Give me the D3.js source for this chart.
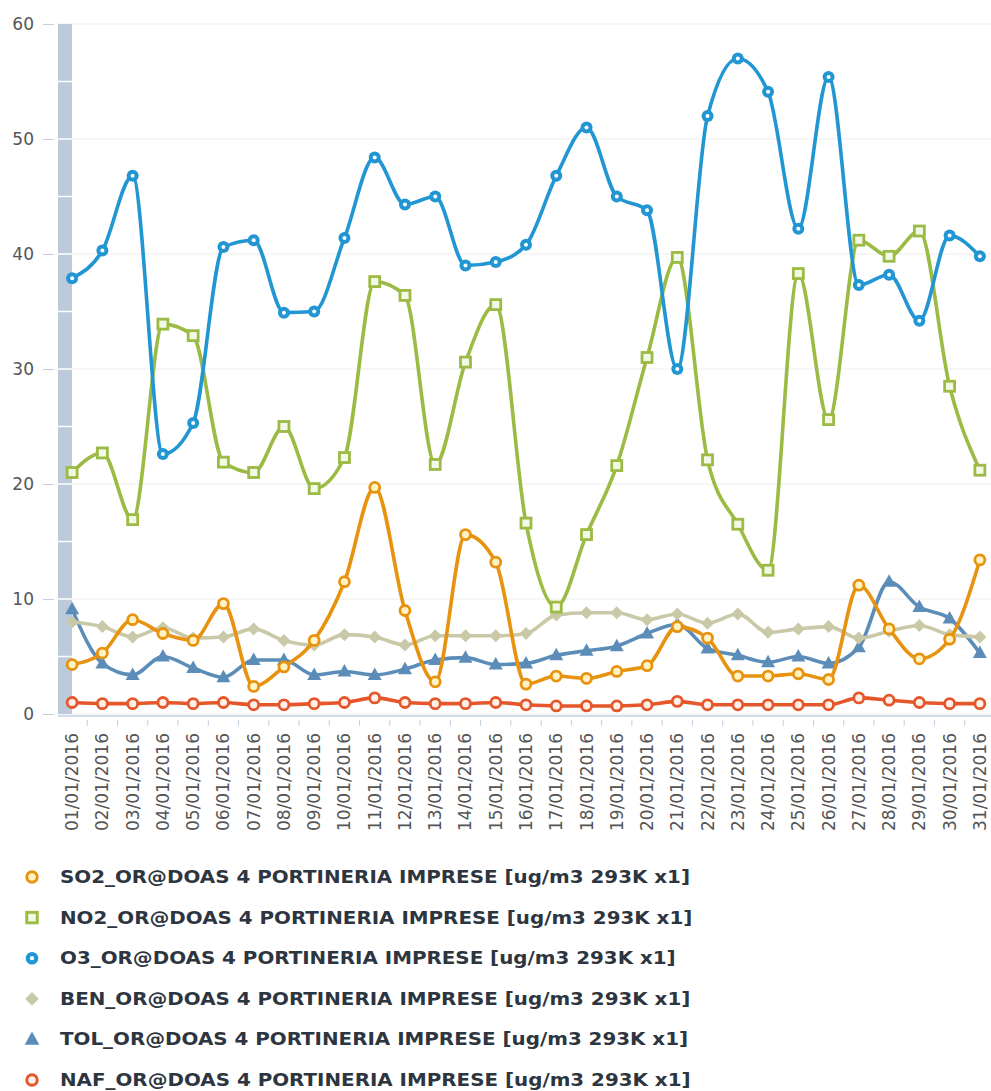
<!DOCTYPE html>
<html><head><meta charset="utf-8">
<script src="https://cdn.jsdelivr.net/npm/d3@7/dist/d3.min.js"></script>
<style>body{margin:0;background:#fff;}svg{display:block;font-family:"DejaVu Sans",Verdana,sans-serif;}</style>
</head><body><svg id="c" width="991" height="1091"></svg>
<script>
const dates = ["01/01/2016","02/01/2016","03/01/2016","04/01/2016","05/01/2016","06/01/2016","07/01/2016","08/01/2016","09/01/2016","10/01/2016","11/01/2016","12/01/2016","13/01/2016","14/01/2016","15/01/2016","16/01/2016","17/01/2016","18/01/2016","19/01/2016","20/01/2016","21/01/2016","22/01/2016","23/01/2016","24/01/2016","25/01/2016","26/01/2016","27/01/2016","28/01/2016","29/01/2016","30/01/2016","31/01/2016"];
const yTicks = [0,10,20,30,40,50,60];
const so2 = [4.3,5.3,8.2,7.0,6.4,9.6,2.4,4.1,6.4,11.5,19.7,9.0,2.8,15.6,13.2,2.6,3.3,3.1,3.7,4.2,7.6,6.6,3.3,3.3,3.5,3.0,11.2,7.4,4.8,6.5,13.4];
const no2 = [21.0,22.7,16.9,33.9,32.9,21.9,21.0,25.0,19.6,22.3,37.6,36.4,21.7,30.6,35.6,16.6,9.3,15.6,21.6,31.0,39.7,22.1,16.5,12.5,38.3,25.6,41.2,39.8,42.0,28.5,21.2];
const o3 = [37.9,40.3,46.8,22.6,25.3,40.6,41.2,34.9,35.0,41.4,48.4,44.3,45.0,39.0,39.3,40.8,46.8,51.0,45.0,43.8,30.0,52.0,57.0,54.1,42.2,55.4,37.3,38.2,34.2,41.6,39.8];
const ben = [8.0,7.6,6.7,7.5,6.6,6.7,7.4,6.4,6.0,6.9,6.7,6.0,6.8,6.8,6.8,7.0,8.6,8.8,8.8,8.2,8.7,7.9,8.7,7.1,7.4,7.6,6.6,7.2,7.7,6.9,6.7];
const tol = [9.1,4.4,3.4,5.0,4.0,3.2,4.7,4.7,3.4,3.7,3.4,3.9,4.7,4.9,4.3,4.4,5.1,5.5,5.9,7.0,7.8,5.7,5.1,4.5,5.0,4.4,5.8,11.5,9.3,8.3,5.3];
const naf = [1.0,0.9,0.9,1.0,0.9,1.0,0.8,0.8,0.9,1.0,1.4,1.0,0.9,0.9,1.0,0.8,0.7,0.7,0.7,0.8,1.1,0.8,0.8,0.8,0.8,0.8,1.4,1.2,1.0,0.9,0.9];
const seriesNames = ["SO2_OR@DOAS 4 PORTINERIA IMPRESE [ug/m3 293K x1]","NO2_OR@DOAS 4 PORTINERIA IMPRESE [ug/m3 293K x1]","O3_OR@DOAS 4 PORTINERIA IMPRESE [ug/m3 293K x1]","BEN_OR@DOAS 4 PORTINERIA IMPRESE [ug/m3 293K x1]","TOL_OR@DOAS 4 PORTINERIA IMPRESE [ug/m3 293K x1]","NAF_OR@DOAS 4 PORTINERIA IMPRESE [ug/m3 293K x1]"];

const series = [
  {name:seriesNames[0], values:so2, color:"#e8930f", marker:"circleHollow", fillIn:"#fff3c4"},
  {name:seriesNames[1], values:no2, color:"#9bbb45", marker:"square", fillIn:"#f4f8e6"},
  {name:seriesNames[2], values:o3, color:"#2196d3", marker:"circleFilled", fillIn:"#ffffff"},
  {name:seriesNames[3], values:ben, color:"#c9c9a8", marker:"diamond", fillIn:null},
  {name:seriesNames[4], values:tol, color:"#5b8db8", marker:"triangle", fillIn:null},
  {name:seriesNames[5], values:naf, color:"#e5562a", marker:"circleHollow", fillIn:"#fff0e8"}
];
const drawOrder = [5,4,3,0,1,2];

const svg = d3.select("#c");
const pLeft = 57, pRight = 995, pTop = 24, pBottom = 714;
const x = d3.scaleBand().domain(dates).range([pLeft, pRight]).padding(0);
const cx = d => x(d) + x.bandwidth()/2;
const y = d3.scaleLinear().domain([0,60]).range([pBottom, pTop]);

// gridlines
svg.append("g").selectAll("line").data(yTicks).join("line")
  .attr("x1", pLeft).attr("x2", 991).attr("y1", d=>y(d)).attr("y2", d=>y(d))
  .attr("stroke", "#eeeeee").attr("stroke-width", 1);

// left band
svg.append("rect").attr("x", 58).attr("y", y(60)).attr("width", 14).attr("height", y(0)-y(60)).attr("fill", "#bccadb");
svg.append("g").selectAll("line").data(d3.range(5,60,5)).join("line")
  .attr("x1",58).attr("x2",72).attr("y1",d=>y(d)).attr("y2",d=>y(d)).attr("stroke","#ffffff").attr("stroke-width",1.5);

// y axis
const yAxis = svg.append("g").attr("transform", `translate(54,0)`)
  .call(d3.axisLeft(y).tickValues(yTicks).tickSize(11).tickPadding(9).tickFormat(d3.format("d")));
yAxis.select(".domain").remove();
yAxis.selectAll(".tick line").attr("stroke", "#c8ccd4");
yAxis.selectAll("text").attr("font-size", 17).attr("fill", "#555555").attr("font-family","\"DejaVu Sans\",sans-serif");

// x axis
svg.append("line").attr("x1", 58).attr("x2", 991).attr("y1", pBottom+2).attr("y2", pBottom+2).attr("stroke", "#c0d0e0").attr("stroke-width", 1.5);
svg.append("g").selectAll("line").data(dates.slice(1)).join("line")
  .attr("x1", d=>x(d)).attr("x2", d=>x(d)).attr("y1", pBottom+6).attr("y2", pBottom+12).attr("stroke", "#c0d0e0");
svg.append("g").selectAll("text").data(dates).join("text")
  .attr("transform", d=>`translate(${cx(d)+6},${pBottom+19}) rotate(-90)`)
  .attr("text-anchor", "end").attr("font-size", 17).attr("fill", "#555555").text(d=>d);

// lines
const line = vals => d3.line().x((v,i)=>cx(dates[i])).y(v=>y(v)).curve(d3.curveMonotoneX)(vals);

function marker(g, type, color, fillIn, px, py, s) {
  s = s || 1;
  if (type === "circleHollow") {
    g.append("circle").attr("cx",px).attr("cy",py).attr("r",5*s).attr("fill",fillIn).attr("stroke",color).attr("stroke-width",2.8*s);
  } else if (type === "circleFilled") {
    g.append("circle").attr("cx",px).attr("cy",py).attr("r",6*s).attr("fill",color);
    g.append("circle").attr("cx",px).attr("cy",py).attr("r",2*s).attr("fill",fillIn);
  } else if (type === "square") {
    g.append("rect").attr("x",px-5*s).attr("y",py-5*s).attr("width",10*s).attr("height",10*s).attr("fill",fillIn).attr("stroke",color).attr("stroke-width",2.8*s);
  } else if (type === "diamond") {
    g.append("path").attr("d",`M${px},${py-6.5*s}L${px+6.5*s},${py}L${px},${py+6.5*s}L${px-6.5*s},${py}Z`).attr("fill",color);
  } else if (type === "triangle") {
    g.append("path").attr("d",`M${px},${py-7.5*s}L${px+7*s},${py+5*s}L${px-7*s},${py+5*s}Z`).attr("fill",color);
  }
}

const plot = svg.append("g");
drawOrder.forEach(k => {
  const s = series[k];
  const g = plot.append("g");
  g.append("path").attr("d", line(s.values)).attr("fill","none").attr("stroke", s.color).attr("stroke-width", 3.6).attr("stroke-linejoin","round");
  s.values.forEach((v,i) => marker(g, s.marker, s.color, s.fillIn, cx(dates[i]), y(v)));
});

// legend
const legY0 = 877, legStep = 40.6;
const leg = svg.append("g");
series.forEach((s,k) => {
  const ly = legY0 + k*legStep;
  marker(leg, s.marker, s.color, s.fillIn, 32, ly, 1.05);
  const t = leg.append("text").attr("x", 60).attr("y", ly+6).attr("font-size", 18).attr("font-weight","bold").attr("fill","#2d3540").text(s.name);
  const w = t.node().getComputedTextLength();
  const target = 630 * w / t.node().getComputedTextLength(); // natural width reference
  // scale to reference width relative to SO2 row (630px)
  if (k === 0) leg.attr("data-base", w);
  const base = +leg.attr("data-base");
  t.attr("textLength", w * 630 / base).attr("lengthAdjust", "spacingAndGlyphs");
});
</script></body></html>
